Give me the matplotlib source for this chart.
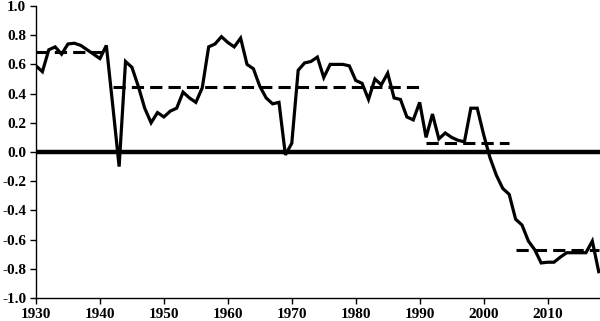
import matplotlib
matplotlib.use("Agg")
import matplotlib.pyplot as plt
import numpy as np

years = list(range(1930, 2019))
values = [0.59, 0.55, 0.70, 0.72, 0.67, 0.74, 0.745, 0.73, 0.70, 0.67,
          0.64, 0.73, 0.32, -0.10, 0.62, 0.58, 0.45, 0.30, 0.20, 0.27,
          0.24, 0.28, 0.30, 0.41, 0.37, 0.34, 0.44, 0.72, 0.74, 0.79,
          0.75, 0.72, 0.78, 0.60, 0.57, 0.45, 0.37, 0.33, 0.34, -0.02,
          0.06, 0.56, 0.61, 0.62, 0.65, 0.51, 0.60, 0.60, 0.60, 0.59,
          0.49, 0.47, 0.36, 0.50, 0.46, 0.54, 0.37, 0.36, 0.24, 0.22,
          0.34, 0.10, 0.26, 0.09, 0.13, 0.10, 0.08, 0.07, 0.30, 0.30,
          0.12, -0.04, -0.16, -0.25, -0.29, -0.46, -0.50, -0.61, -0.67, -0.76,
          -0.755, -0.755, -0.72, -0.69, -0.69, -0.69, -0.69, -0.61, -0.82]

period_start = [1930, 1942, 1991, 2005]
period_end = [1941, 1990, 2004, 2018]
period_mean = [0.685, 0.445, 0.06, -0.67]

xticks = list(range(1930, 2011, 10))
yticks = [-1.0, -0.8, -0.6, -0.4, -0.2, 0.0, 0.2, 0.4, 0.6, 0.8, 1.0]

plt.rcParams['font.family'] = ['Liberation Serif', 'DejaVu Serif']
plt.rcParams['font.weight'] = 'bold'

fig = plt.figure(figsize=(6.0, 3.21), dpi=100)
ax = fig.add_axes([0.06, 0.0717, 0.94, 0.9096])

ax.axhline(0, color='black', linewidth=3.2, zorder=2)
ax.plot(years, values, color='black', linewidth=2.3, zorder=3, solid_joinstyle='miter')
for s, e, m in zip(period_start, period_end, period_mean):
    ax.plot([s, e], [m, m], color='black', linewidth=2.2, linestyle=(0, (4, 2)), zorder=3)

ax.set_xlim(1930, 2018.2)
ax.set_ylim(-1.0, 1.0)
ax.set_xticks(xticks)
ax.set_yticks(yticks)
ax.set_yticklabels([f"{v:.1f}" for v in yticks])
ax.spines['top'].set_visible(False)
ax.spines['right'].set_visible(False)
for sp in ['left', 'bottom']:
    ax.spines[sp].set_linewidth(1.0)
ax.tick_params(direction='out', length=4, width=1, labelsize=11, pad=3)
for lab in ax.get_xticklabels() + ax.get_yticklabels():
    lab.set_fontweight('bold')

fig.savefig('out.png', dpi=100)
